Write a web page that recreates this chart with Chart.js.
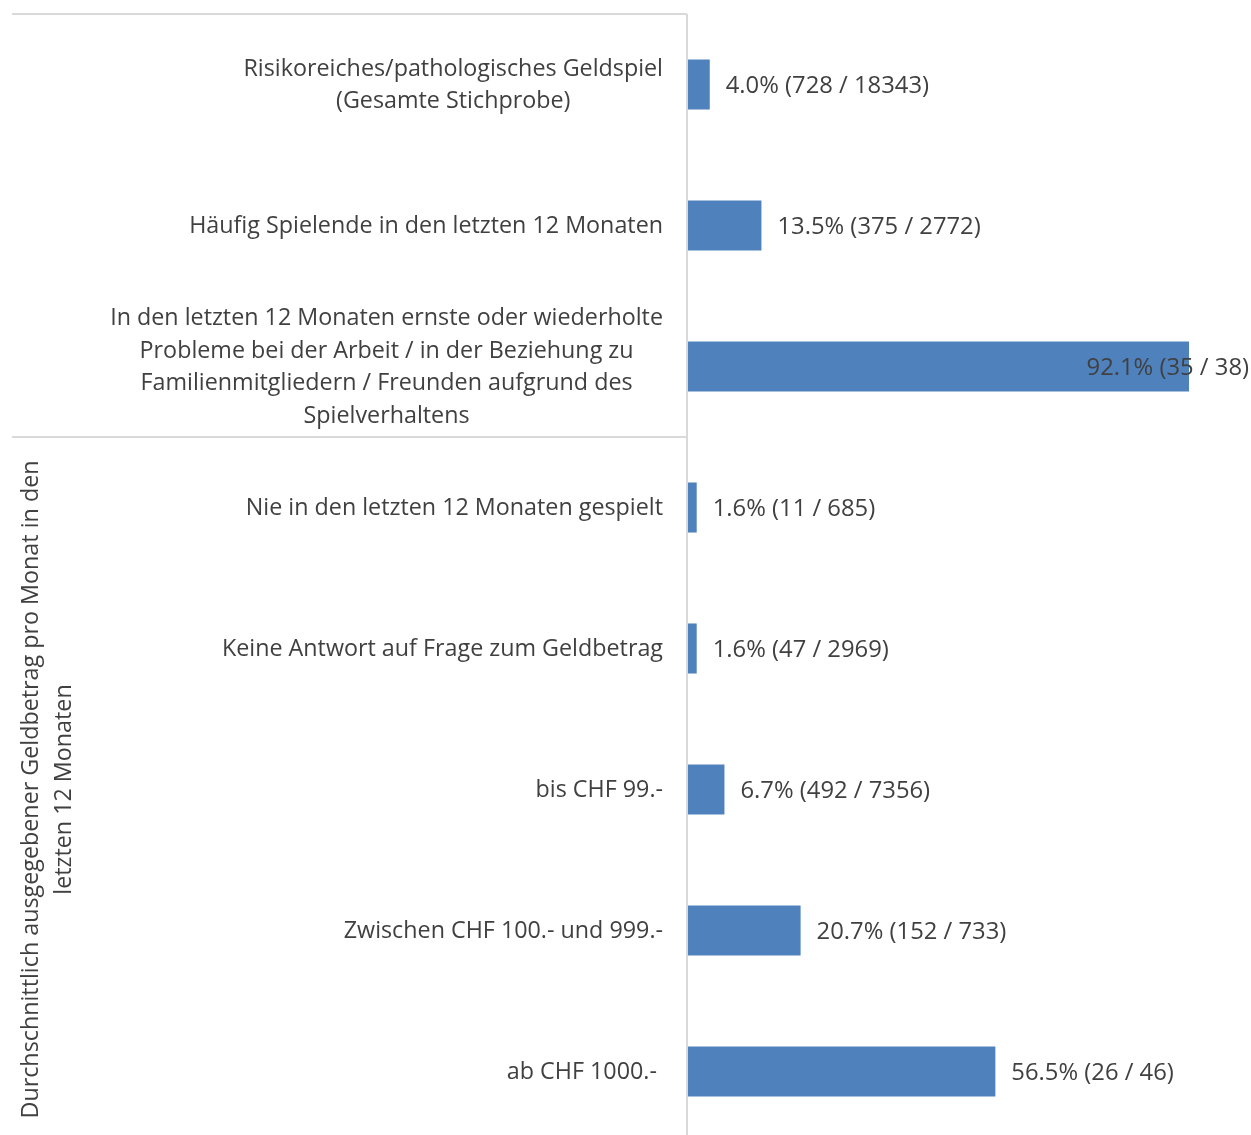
<!DOCTYPE html>
<html>
<head>
<meta charset="utf-8">
<script src="https://cdn.jsdelivr.net/npm/chart.js@4.4.1/dist/chart.umd.min.js"></script>
<style>
    html, body { margin: 0; padding: 0; background: #fff; overflow: hidden; }
    #wrap { width: 1251px; height: 1143px; position: relative; }
</style>
</head>
<body>
<div id="wrap"><canvas id="chart"></canvas></div>
<script>
const categories = [
    ['Risikoreiches/pathologisches Geldspiel', '(Gesamte Stichprobe)'],
    ['Häufig Spielende in den letzten 12 Monaten'],
    ['In den letzten 12 Monaten ernste oder wiederholte', 'Probleme bei der Arbeit / in der Beziehung zu', 'Familienmitgliedern / Freunden aufgrund des', 'Spielverhaltens'],
    ['Nie in den letzten 12 Monaten gespielt'],
    ['Keine Antwort auf Frage zum Geldbetrag'],
    ['bis CHF 99.-'],
    ['Zwischen CHF 100.- und 999.-'],
    ['ab CHF 1000.- ']
];
const percentValues = [4.0, 13.5, 92.1, 1.6, 1.6, 6.7, 20.7, 56.5];
const countValues = ['728 / 18343', '375 / 2772', '35 / 38', '11 / 685', '47 / 2969', '492 / 7356', '152 / 733', '26 / 46'];
const groupTitle = ['Durchschnittlich ausgegebener Geldbetrag pro Monat in den', 'letzten 12 Monaten'];
const groupStart = 3;

const textColor = '#404040';
const lineColor = '#d9d9d9';
const fontFamily = '"Open Sans", "Noto Sans", sans-serif';

const extrasPlugin = {
    id: 'extras',
    afterDatasetsDraw: function (chart) {
        const ctx = chart.ctx;
        const area = chart.chartArea;
        const yScale = chart.scales.y;
        const xScale = chart.scales.x;
        const step = yScale.getPixelForValue(1) - yScale.getPixelForValue(0);
        ctx.save();

        // lines
        ctx.strokeStyle = lineColor;
        ctx.lineWidth = 2;
        ctx.beginPath();
        ctx.moveTo(area.left - 1, area.top);
        ctx.lineTo(area.left - 1, area.bottom);
        ctx.moveTo(12, area.top);
        ctx.lineTo(area.left - 1, area.top);
        const divY = yScale.getPixelForValue(groupStart) - step / 2;
        ctx.moveTo(12, divY);
        ctx.lineTo(area.left - 1, divY);
        ctx.stroke();

        // category labels
        ctx.font = '23.3px ' + fontFamily;
        ctx.fillStyle = textColor;
        ctx.textAlign = 'center';
        ctx.textBaseline = 'middle';
        const lineH = 32.5;
        const labelRight = area.left - 25;
        categories.forEach(function (lines, i) {
            let w = 0;
            lines.forEach(function (l) { w = Math.max(w, ctx.measureText(l).width); });
            const cx = labelRight - w / 2;
            const cy = yScale.getPixelForValue(i) + 1;
            lines.forEach(function (l, j) {
                ctx.fillText(l, cx, cy + (j - (lines.length - 1) / 2) * lineH);
            });
        });

        // data labels
        ctx.font = '23.8px ' + fontFamily;
        ctx.textAlign = 'left';
        percentValues.forEach(function (v, i) {
            const txt = v.toFixed(1) + '% (' + countValues[i] + ')';
            const w = ctx.measureText(txt).width;
            let x = xScale.getPixelForValue(v) + 16;
            if (x + w > chart.width - 2) {
                x = chart.width - 2 - w;
            }
            ctx.fillText(txt, x, yScale.getPixelForValue(i) + 2);
        });

        // group title
        ctx.font = '23.3px ' + fontFamily;
        const gTop = divY;
        const gBottom = area.bottom;
        ctx.translate(48, (gTop + gBottom) / 2);
        ctx.rotate(-Math.PI / 2);
        ctx.textAlign = 'center';
        groupTitle.forEach(function (l, j) {
            ctx.fillText(l, 0, (j - (groupTitle.length - 1) / 2) * lineH);
        });
        ctx.restore();
    }
};

new Chart(document.getElementById('chart'), {
    type: 'bar',
    data: {
        labels: categories,
        datasets: [{
            data: percentValues,
            backgroundColor: '#4f81bd',
            borderWidth: 0,
            barPercentage: 0.355,
            categoryPercentage: 1
        }]
    },
    options: {
        indexAxis: 'y',
        responsive: true,
        maintainAspectRatio: false,
        animation: false,
        layout: {
            padding: { left: 688, right: 19, top: 14, bottom: 1 }
        },
        plugins: {
            legend: { display: false },
            tooltip: { enabled: false }
        },
        scales: {
            x: { display: false, min: 0, max: 100 },
            y: { display: false }
        }
    },
    plugins: [extrasPlugin]
});
</script>
</body>
</html>
